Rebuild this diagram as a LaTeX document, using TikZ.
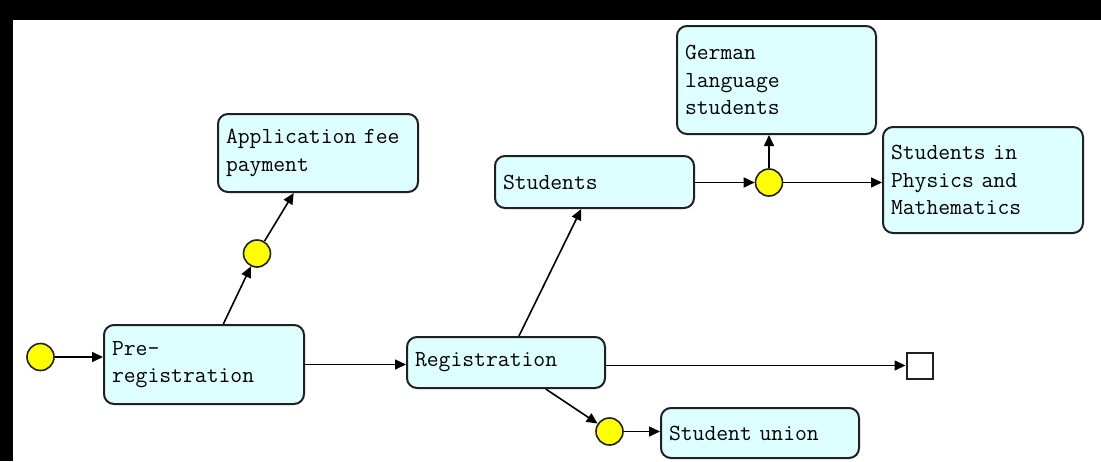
\documentclass[tikz,border=0pt]{standalone}
\usetikzlibrary{arrows.meta}
\definecolor{boxfill}{HTML}{DDFFFF}
\definecolor{boxline}{HTML}{202020}
\definecolor{dotfill}{HTML}{FFFF00}
\tikzset{
  box/.style={draw=boxline, fill=boxfill, rounded corners=10pt, line width=2pt,
    inner xsep=8pt, inner ysep=0pt, align=left, anchor=north west,
    font=\ttfamily\fontsize{23}{27.5}\selectfont},
  dot/.style={circle, draw=boxline, fill=dotfill, line width=1.6pt, minimum size=27pt, inner sep=0pt},
  endbox/.style={rectangle, draw=boxline, fill=white, line width=2pt, minimum size=26pt, inner sep=0pt},
  conn/.style={draw=black, line width=1.6pt, -{Triangle[length=11pt,width=10pt]}}
}
\begin{document}
\begin{tikzpicture}[x=1pt,y=-1pt]
\useasboundingbox (0,0) rectangle (1101,461);
\fill[black] (0,0) rectangle (1101,461);
\fill[white] (13,20) rectangle (1101,461);

\node[box, text width=184pt, minimum height=78pt] (app) at (217,113) {Application fee\\payment};
\node[box, text width=184pt, minimum height=79pt] (pre) at (103,324) {Pre-\\registration};
\node[box, text width=182pt, minimum height=51pt] (reg) at (406,336) {Registration};
\node[box, text width=183pt, minimum height=52pt] (stu) at (494,155) {Students};
\node[box, text width=183pt, minimum height=108pt] (ger) at (676,25) {German\\language\\students};
\node[box, text width=184pt, minimum height=106pt] (phy) at (882,126) {Students in\\Physics and\\Mathematics};
\node[box, text width=182pt, minimum height=50pt] (uni) at (660,407) {Student union};

\node[dot] (start) at (40.5,357) {};
\node[dot] (c1) at (257,253.5) {};
\node[dot] (c2) at (769,182.5) {};
\node[dot] (c3) at (609.5,431.5) {};
\node[endbox] (fin) at (919.5,365.5) {};

\draw[conn] (start) -- (start -| pre.west);
\draw[conn] (pre) -- (c1);
\draw[conn] (c1) -- (app);
\draw[conn] (pre.east) -- (pre.east -| reg.west);
\draw[conn] (reg) -- (stu);
\draw[conn] (reg) -- (c3);
\draw[conn] (c3) -- (c3 -| uni.west);
\draw[conn] (reg.east |- fin) -- (fin);
\draw[conn] (stu.east |- c2) -- (c2);
\draw[conn] (c2) -- (c2 |- ger.south);
\draw[conn] (c2) -- (c2 -| phy.west);
\end{tikzpicture}
\end{document}
